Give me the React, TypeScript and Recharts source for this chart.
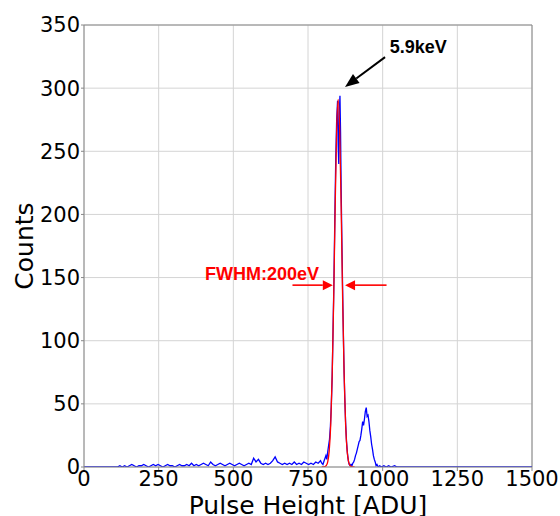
import React from "react";
import { LineChart, Line, XAxis, YAxis, CartesianGrid, ReferenceLine, ReferenceDot } from "recharts";

// measured spectrum (blue)
const pulseHeight = [
  0, 104, 112, 120, 128, 136, 144, 152, 160, 168, 176, 184, 192, 200, 208, 216, 224, 232, 240, 248,
  256, 264, 272, 280, 288, 296, 304, 312, 320, 328, 336, 344, 352, 360, 368, 376, 384, 392, 400, 408,
  416, 424, 432, 440, 448, 456, 464, 472, 480, 488, 496, 504, 512, 520, 528, 536, 544, 552, 560, 568,
  576, 584, 592, 600, 608, 616, 624, 632, 640, 648, 656, 664, 672, 680, 688, 696, 704, 712, 720, 728,
  736, 744, 752, 760, 768, 776, 784, 792, 796, 800, 804, 807, 810, 813, 816, 819, 822, 825, 828, 831,
  834, 837, 840, 843, 846, 849, 851, 853, 855, 857, 859, 861, 864, 867, 870, 873, 876, 879, 882, 885,
  888, 891, 894, 897, 900, 903, 906, 909, 912, 915, 918, 921, 924, 927, 930, 933, 936, 939, 942, 945,
  948, 951, 954, 957, 960, 963, 966, 969, 972, 975, 978, 981, 985, 990, 996, 1004, 1012, 1020, 1028, 1040,
  1048, 1500,
];
const counts = [
  0, 0, 0, 1, 0, 1, 0, 1, 2, 1, 0, 1, 1, 2, 1, 0, 1, 2, 1, 2,
  1, 0, 1, 2, 1, 1, 0, 1, 2, 1, 1, 2, 1, 3, 1, 2, 1, 2, 3, 2,
  1, 4, 2, 1, 2, 3, 2, 1, 2, 3, 2, 1, 2, 3, 2, 1, 2, 3, 2, 7,
  4, 6, 3, 2, 3, 2, 3, 5, 8, 4, 3, 2, 3, 2, 3, 2, 4, 2, 3, 2,
  4, 3, 2, 3, 2, 4, 3, 5, 3, 2, 5, 7, 9, 6, 12, 17, 22, 32, 48, 72,
  110, 150, 200, 245, 275, 290, 255, 240, 280, 294, 265, 220, 170, 125, 85, 55, 35, 20, 11, 5,
  2, 1, 2, 1, 3, 4, 6, 9, 11, 14, 17, 20, 21, 25, 30, 36, 33, 38, 44, 47,
  40, 41, 36, 29, 24, 18, 14, 9, 6, 4, 1, 2, 0, 1, 0, 1, 0, 1, 0, 1,
  0, 0,
];

// gaussian fit (red)
const fitX = [796, 801, 806, 811, 816, 821, 826, 831, 836, 841, 846, 851, 856, 861, 866, 871, 876, 881, 886, 891, 896, 901, 906];
const fitY = [0, 0, 0.3, 1.1, 4.1, 12.8, 33, 73, 133, 206, 267, 291, 267, 206, 133, 73, 33, 12.8, 4.1, 1.1, 0.3, 0, 0];

const xTicks = [0, 250, 500, 750, 1000, 1250, 1500];
const yTicks = [0, 50, 100, 150, 200, 250, 300, 350];

const blueData = pulseHeight.map((x, i) => ({ x, y: counts[i] }));
const redData = fitX.map((x, i) => ({ x, y: fitY[i] }));

const tickFont = { fill: "#000", fontSize: 21, fontFamily: "DejaVu Sans" };

function arrow(color: string, width: number, headLen: number, headW: number) {
  return (p: any) => {
    const { x1, y1, x2, y2 } = p;
    const dx = x2 - x1;
    const dy = y2 - y1;
    const len = Math.sqrt(dx * dx + dy * dy) || 1;
    const ux = dx / len;
    const uy = dy / len;
    const bx = x2 - ux * headLen;
    const by = y2 - uy * headLen;
    const px = -uy * (headW / 2);
    const py = ux * (headW / 2);
    return (
      <g>
        <line x1={x1} y1={y1} x2={bx} y2={by} stroke={color} strokeWidth={width} />
        <polygon points={`${x2},${y2} ${bx + px},${by + py} ${bx - px},${by - py}`} fill={color} />
      </g>
    );
  };
}

function note(text: string, color: string) {
  return (p: any) => (
    <text
      x={p.cx}
      y={p.cy}
      fill={color}
      fontSize={18}
      fontWeight="bold"
      fontFamily="Liberation Sans"
    >
      {text}
    </text>
  );
}

export default function App() {
  return (
    <div style={{ position: "fixed", left: 0, top: 0, background: "#fff" }}>
      <LineChart width={560} height={516} margin={{ top: 25, right: 28, left: 0, bottom: 0 }}>
        <CartesianGrid stroke="#d4d4d4" strokeWidth={1} />
        <XAxis
          dataKey="x"
          type="number"
          domain={[0, 1500]}
          ticks={xTicks}
          interval={0}
          height={49}
          allowDataOverflow
          stroke="#888"
          tickSize={4}
          tickMargin={0}
          tick={tickFont}
          label={() => (
            <text x={308} y={514} textAnchor="middle" fontSize={25} fontFamily="DejaVu Sans" fill="#000">
              Pulse Height [ADU]
            </text>
          )}
        />
        <YAxis
          type="number"
          domain={[0, 350]}
          ticks={yTicks}
          interval={0}
          width={84}
          allowDataOverflow
          stroke="#888"
          tickSize={3}
          tickMargin={1}
          tick={tickFont}
          label={() => (
            <text
              x={33}
              y={246}
              transform="rotate(-90 33 246)"
              textAnchor="middle"
              fontSize={25}
              fontFamily="DejaVu Sans"
              fill="#000"
            >
              Counts
            </text>
          )}
        />
        <ReferenceLine y={350} stroke="#888" />
        <ReferenceLine x={1500} stroke="#888" />
        <Line data={blueData} dataKey="y" type="linear" stroke="#0000ff" strokeWidth={1.3} dot={false} isAnimationActive={false} />
        <Line data={redData} dataKey="y" type="monotone" stroke="#ff0000" strokeWidth={1.3} dot={false} isAnimationActive={false} />
        <ReferenceLine segment={[{ x: 1008, y: 324.6 }, { x: 874, y: 301 }]} shape={arrow("#000", 2, 14, 11)} />
        <ReferenceLine segment={[{ x: 698, y: 144 }, { x: 833, y: 144 }]} shape={arrow("#ff0000", 1.6, 10, 10)} />
        <ReferenceLine segment={[{ x: 1013, y: 144 }, { x: 874, y: 144 }]} shape={arrow("#ff0000", 1.6, 10, 10)} />
        <ReferenceDot x={1024} y={327.8} r={0} shape={note("5.9keV", "#000")} />
        <ReferenceDot x={405} y={147.8} r={0} shape={note("FWHM:200eV", "#ff0000")} />
      </LineChart>
    </div>
  );
}
